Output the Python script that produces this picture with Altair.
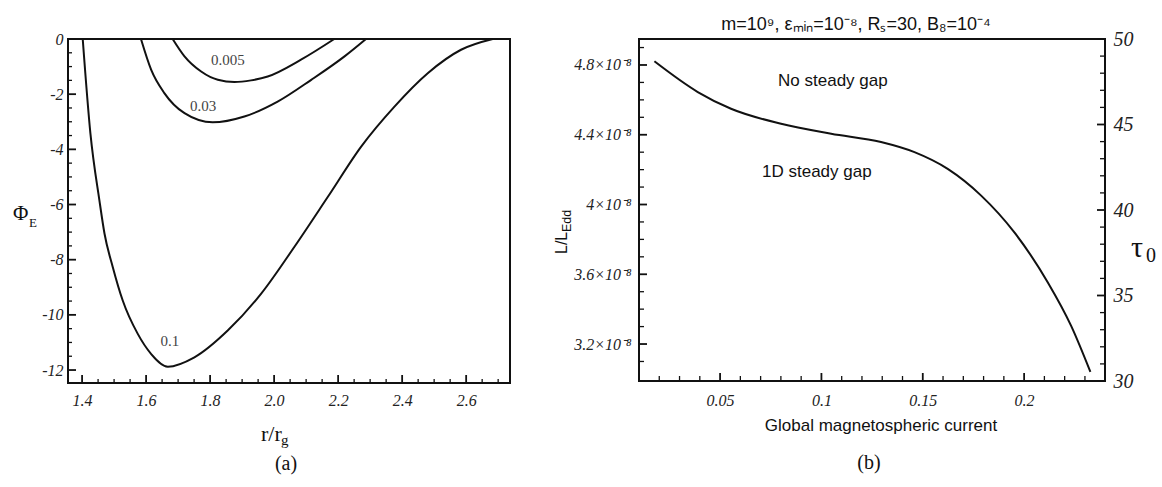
import altair as alt
import pandas as pd

# ---------------- Panel (a): Phi_E versus r/r_g ----------------
r_01 = [1.402, 1.426, 1.454, 1.470, 1.496, 1.527, 1.574, 1.616, 1.668, 1.751, 1.855,
        1.959, 2.063, 2.168, 2.272, 2.376, 2.480, 2.584, 2.683]
phi_01 = [0, -3.42, -5.84, -7.05, -8.27, -9.48, -10.69, -11.42, -11.88, -11.54, -10.57,
          -9.24, -7.54, -5.72, -3.90, -2.45, -1.24, -0.39, 0]
r_003 = [1.584, 1.616, 1.657, 1.720, 1.808, 1.907, 2.011, 2.116, 2.220, 2.287]
phi_003 = [0, -1.12, -1.96, -2.69, -3.02, -2.81, -2.27, -1.48, -0.63, 0]
r_0005 = [1.683, 1.720, 1.772, 1.824, 1.876, 1.928, 1.980, 2.084, 2.188]
phi_0005 = [0, -0.63, -1.18, -1.48, -1.56, -1.50, -1.36, -0.75, 0]

curve_names = ["0.1", "0.03", "0.005"]
curve_label_r = [1.645, 1.7375, 1.803]
curve_label_phi = [-10.93, -2.42, -0.75]

a_xticks = [1.4, 1.6, 1.8, 2.0, 2.2, 2.4, 2.6]
a_xminor = [1.45, 1.5, 1.55, 1.65, 1.7, 1.75, 1.85, 1.9, 1.95, 2.05, 2.1, 2.15,
            2.25, 2.3, 2.35, 2.45, 2.5, 2.55, 2.65, 2.7]
a_yticks = [0, -2, -4, -6, -8, -10, -12]
a_yminor = [-0.5, -1, -1.5, -2.5, -3, -3.5, -4.5, -5, -5.5, -6.5, -7, -7.5,
            -8.5, -9, -9.5, -10.5, -11, -11.5]

# ---------------- Panel (b): L/L_Edd versus global current ----------------
current = [0.0176, 0.0390, 0.0554, 0.0801, 0.1048, 0.1294, 0.1459, 0.1623, 0.1788,
           0.1952, 0.2117, 0.2232, 0.2327]
lum_e8 = [4.821, 4.645, 4.549, 4.463, 4.406, 4.358, 4.300, 4.204, 4.051,
          3.840, 3.553, 3.304, 3.040]

region_text = ["No steady gap", "1D steady gap"]
region_x = [0.0786, 0.0707]
region_y = [4.707, 4.186]

b_xticks = [0.05, 0.1, 0.15, 0.2]
b_xminor = [0.02, 0.03, 0.04, 0.06, 0.07, 0.08, 0.09, 0.11, 0.12, 0.13, 0.14,
            0.16, 0.17, 0.18, 0.19, 0.21, 0.22, 0.23]
b_lticks = [3.2, 3.6, 4.0, 4.4, 4.8]
b_lminor = [3.1, 3.3, 3.4, 3.5, 3.7, 3.8, 3.9, 4.1, 4.2, 4.3, 4.5, 4.6, 4.7, 4.9]
b_tticks = [30, 35, 40, 45, 50]
b_tminor = [31, 32, 33, 34, 36, 37, 38, 39, 41, 42, 43, 44, 46, 47, 48, 49]

title_b = "m=10⁹, εₘᵢₙ=10⁻⁸, Rₛ=30, B₈=10⁻⁴"

# ---------------- sizes ----------------
AW, AH = 442, 344
BW, BH = 466, 342
INK = "#111111"
SERIF = "Liberation Serif"
SANS = "Liberation Sans"

A_X = [1.356, 2.737]
A_Y = [-12.47, 0.0]
B_X = [0.01, 0.2399]
B_L = [2.988, 4.949]
B_T = [30.0, 50.0]

# ---------------- scales / axes ----------------
ax_x_scale = alt.Scale(domain=A_X, nice=False, zero=False)
ax_y_scale = alt.Scale(domain=A_Y, nice=False, zero=False)
ax_x_axis = alt.Axis(values=a_xticks, format=".1f", title=None, labelFontSize=16,
                     labelPadding=9, labelFlush=False)
ax_y_axis = alt.Axis(values=a_yticks, labelExpr="'' + datum.value", title=None,
                     labelFontSize=16, labelPadding=5, labelFlush=False)

bx_scale = alt.Scale(domain=B_X, nice=False, zero=False)
bl_scale = alt.Scale(domain=B_L, nice=False, zero=False)
bt_scale = alt.Scale(domain=B_T, nice=False, zero=False)
bx_axis = alt.Axis(values=b_xticks, labelExpr="'' + datum.value", title=None,
                   labelFontSize=16, labelPadding=11, labelFlush=False)
bl_axis = alt.Axis(values=b_lticks,
                   labelExpr="(datum.value == 4 ? '4' : format(datum.value, '.1f')) + '×10⁻⁸'",
                   title=None, labelFontSize=16, labelPadding=8, labelFlush=False)
bt_axis = alt.Axis(values=b_tticks, orient="right", title=None, labelFontSize=20,
                   labelPadding=8, labelFlush=False)


def txt(text, x, y, size, font, style="normal", angle=0, align="left",
        baseline="alphabetic", color=INK):
    return alt.Chart(pd.DataFrame({"t": [text]})).mark_text(
        align=align, baseline=baseline, font=font, fontSize=size, fontStyle=style,
        angle=angle, color=color).encode(x=alt.value(x), y=alt.value(y), text="t:N")


def xticks(values, xs, ys, ydom, h, length, sw):
    """Inward ticks on the bottom edge, drawn as short line segments."""
    d = length * (ydom[1] - ydom[0]) / h
    rows = []
    for k, v in enumerate(values):
        rows.append({"tid": k, "p": 0, "tx": v, "ty": ydom[0]})
        rows.append({"tid": k, "p": 1, "tx": v, "ty": ydom[0] + d})
    return alt.Chart(pd.DataFrame(rows)).mark_line(color=INK, strokeWidth=sw).encode(
        x=alt.X("tx:Q", scale=xs), y=alt.Y("ty:Q", scale=ys),
        detail="tid:N", order="p:Q")


def yticks(values, ys, xs, xdom, w, length, sw, right=False):
    """Inward ticks on the left (or right) edge, drawn as short line segments."""
    d = length * (xdom[1] - xdom[0]) / w
    edge = xdom[1] if right else xdom[0]
    end = edge - d if right else edge + d
    rows = []
    for k, v in enumerate(values):
        rows.append({"tid": k, "p": 0, "yv": v, "xe": edge})
        rows.append({"tid": k, "p": 1, "yv": v, "xe": end})
    return alt.Chart(pd.DataFrame(rows)).mark_line(color=INK, strokeWidth=sw).encode(
        y=alt.Y("yv:Q", scale=ys), x=alt.X("xe:Q", scale=xs),
        detail="tid:N", order="p:Q")


# ---------------- panel (a) ----------------
rows_a = []
for name, rs, ps in zip(curve_names, [r_01, r_003, r_0005], [phi_01, phi_003, phi_0005]):
    for i, (r, p) in enumerate(zip(rs, ps)):
        rows_a.append({"curve": name, "r": r, "phi": p, "i": i})
df_a = pd.DataFrame(rows_a)

curves_a = alt.Chart(df_a).mark_line(color=INK, strokeWidth=2, interpolate="monotone").encode(
    x=alt.X("r:Q", scale=ax_x_scale, axis=ax_x_axis),
    y=alt.Y("phi:Q", scale=ax_y_scale, axis=ax_y_axis),
    detail="curve:N", order="i:Q")

labels_a = alt.Chart(pd.DataFrame({"t": curve_names, "r": curve_label_r, "phi": curve_label_phi})).mark_text(
    align="left", baseline="middle", font=SERIF, fontSize=15, color="#444").encode(
    x=alt.X("r:Q", scale=ax_x_scale),
    y=alt.Y("phi:Q", scale=ax_y_scale), text="t:N")

panel_a = alt.layer(
    curves_a,
    xticks(a_xticks, ax_x_scale, ax_y_scale, A_Y, AH, 8, 1.8),
    xticks(a_xminor, ax_x_scale, ax_y_scale, A_Y, AH, 4, 1.3),
    yticks(a_yticks, ax_y_scale, ax_x_scale, A_X, AW, 8, 1.8),
    yticks(a_yminor, ax_y_scale, ax_x_scale, A_X, AW, 4, 1.3),
    labels_a,
    txt("Φ", -55, 181, 21, SERIF),
    txt("E", -39, 188, 13, SERIF),
    txt("r/r", 193, 402, 22, SERIF),
    txt("g", 213, 406, 15, SERIF),
    txt("(a)", 218, 425, 20, SERIF, align="center", baseline="middle"),
).properties(width=AW, height=AH)

# ---------------- panel (b) ----------------
curve_b = alt.Chart(pd.DataFrame({"c": current, "l": lum_e8})).mark_line(
    color=INK, strokeWidth=2, interpolate="monotone").encode(
    x=alt.X("c:Q", scale=bx_scale, axis=bx_axis),
    y=alt.Y("l:Q", scale=bl_scale, axis=bl_axis))

regions_b = alt.Chart(pd.DataFrame({"t": region_text, "c": region_x, "l": region_y})).mark_text(
    align="left", baseline="middle", font=SANS, fontSize=17, color=INK).encode(
    x=alt.X("c:Q", scale=bx_scale),
    y=alt.Y("l:Q", scale=bl_scale), text="t:N")

b_main = alt.layer(
    curve_b,
    xticks(b_xticks, bx_scale, bl_scale, B_L, BH, 8, 1.8),
    xticks(b_xminor, bx_scale, bl_scale, B_L, BH, 5, 1.3),
    yticks(b_lticks, bl_scale, bx_scale, B_X, BW, 8, 1.8),
    yticks(b_lminor, bl_scale, bx_scale, B_X, BW, 5, 1.3),
    regions_b,
    txt(title_b, 217, -9, 18, SANS, align="center"),
    txt("L/L", -72, 215, 16, SANS, angle=270),
    txt("Edd", -68, 193, 12.5, SANS, angle=270),
    txt("τ", 492, 218, 30, SERIF),
    txt("0", 507, 223, 20, SERIF),
    txt("Global magnetospheric current", 242, 392, 17, SANS, align="center"),
    txt("(b)", 230, 424, 20, SERIF, align="center", baseline="middle"),
)

tau_axis_layer = alt.Chart(pd.DataFrame({"yv": b_tticks})).mark_point(opacity=0).encode(
    y=alt.Y("yv:Q", scale=bt_scale, axis=bt_axis))

b_tau = alt.layer(
    tau_axis_layer,
    yticks(b_tticks, bt_scale, bx_scale, B_X, BW, 8, 1.8, right=True),
    yticks(b_tminor, bt_scale, bx_scale, B_X, BW, 5, 1.3, right=True),
)

panel_b = alt.layer(b_main, b_tau).resolve_scale(y="independent").properties(width=BW, height=BH)

chart = alt.hconcat(panel_a, panel_b, spacing=129, bounds="flush").properties(
    padding={"left": 12, "top": 15, "right": 5, "bottom": 5},
    background="white",
).configure_view(stroke=INK, strokeWidth=2).configure_axis(
    ticks=False, domain=False, grid=False, labelColor="#222",
    labelFont=SERIF, labelFontStyle="italic")

chart.save("out.html", embed_options={"renderer": "svg", "actions": False})
